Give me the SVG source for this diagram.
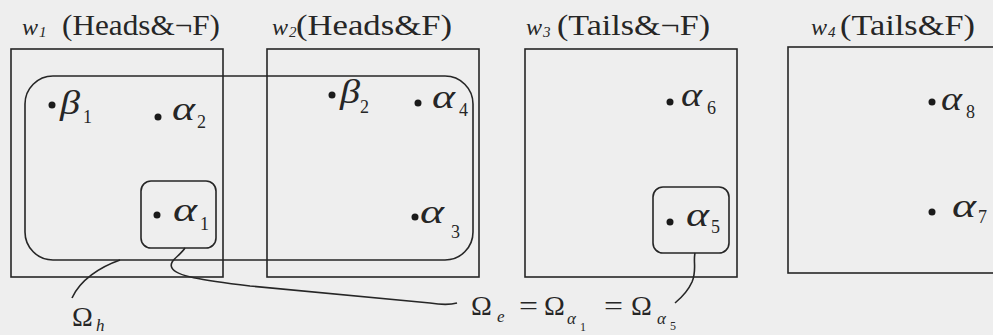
<svg xmlns="http://www.w3.org/2000/svg" width="993" height="335" viewBox="0 0 993 335" font-family="'Liberation Serif', 'DejaVu Serif', serif">
<style>
.bg{fill:#eeeeee}
.box{fill:none;stroke:#262626;stroke-width:1.6}
.set{fill:none;stroke:#262626;stroke-width:1.6}
.con{fill:none;stroke:#262626;stroke-width:1.6}
.dot{fill:#1a1a1a}
text{font-family:'Liberation Serif','DejaVu Serif',serif;fill:#262626}
.t{font-size:30px}
.w{font-size:24px;font-style:italic}
.ws{font-size:15px;font-style:italic}
.g{font-size:34px;font-style:italic}
.gs{font-size:18px}
.om{font-size:28px}
.os{font-size:17px;font-style:italic}
.oss{font-size:12px}
</style>
<rect class="bg" x="0" y="0" width="993" height="335"/>

<g id="world-w1">
<rect class="box" x="11" y="49" width="212" height="228"/>
<text class="w" x="22" y="35">w</text><text class="ws" x="39" y="37">1</text>
<text class="t" x="62" y="35" textLength="158" lengthAdjust="spacingAndGlyphs">(Heads&amp;¬F)</text>
</g>
<g id="world-w2">
<rect class="box" x="267" y="49" width="212" height="228"/>
<text class="w" x="272" y="35">w</text><text class="ws" x="289" y="37">2</text>
<text class="t" x="296" y="35" textLength="156" lengthAdjust="spacingAndGlyphs">(Heads&amp;F)</text>
</g>
<g id="world-w3">
<rect class="box" x="525" y="49" width="212" height="228"/>
<text class="w" x="526" y="35">w</text><text class="ws" x="543" y="37">3</text>
<text class="t" x="557" y="35" textLength="153" lengthAdjust="spacingAndGlyphs">(Tails&amp;¬F)</text>
</g>
<g id="world-w4">
<rect class="box" x="788" y="47" width="220" height="226"/>
<text class="w" x="811" y="35">w</text><text class="ws" x="828" y="37">4</text>
<text class="t" x="840" y="35" textLength="135" lengthAdjust="spacingAndGlyphs">(Tails&amp;F)</text>
</g>

<g id="set-omega-h">
<rect class="set" x="25" y="76" width="448" height="184" rx="28" ry="28"/>
</g>
<g id="set-alpha1">
<rect class="set" x="141" y="181" width="75" height="67" rx="10" ry="10"/>
</g>
<g id="set-alpha5">
<rect class="set" x="653" y="187" width="76" height="66" rx="10" ry="10"/>
</g>

<g id="pt-beta1"><circle class="dot" cx="52" cy="105" r="3.5"/><text class="g" x="60" y="114" textLength="20" lengthAdjust="spacingAndGlyphs">β</text><text class="gs" x="83" y="123">1</text></g>
<g id="pt-alpha2"><circle class="dot" cx="158" cy="117" r="3.5"/><text class="g" x="172" y="120" textLength="23" lengthAdjust="spacingAndGlyphs">α</text><text class="gs" x="197" y="128">2</text></g>
<g id="pt-beta2"><circle class="dot" cx="332" cy="95" r="3.5"/><text class="g" x="340" y="103" textLength="20" lengthAdjust="spacingAndGlyphs">β</text><text class="gs" x="360" y="113">2</text></g>
<g id="pt-alpha4"><circle class="dot" cx="418" cy="103" r="3.5"/><text class="g" x="432" y="108" textLength="23" lengthAdjust="spacingAndGlyphs">α</text><text class="gs" x="459" y="116">4</text></g>
<g id="pt-alpha1"><circle class="dot" cx="157" cy="215" r="3.5"/><text class="g" x="173" y="221" textLength="24" lengthAdjust="spacingAndGlyphs">α</text><text class="gs" x="200" y="230">1</text></g>
<g id="pt-alpha3"><circle class="dot" cx="415" cy="217" r="3.5"/><text class="g" x="420" y="223" textLength="24" lengthAdjust="spacingAndGlyphs">α</text><text class="gs" x="451" y="238">3</text></g>
<g id="pt-alpha6"><circle class="dot" cx="670" cy="102" r="3.5"/><text class="g" x="681" y="106" textLength="21" lengthAdjust="spacingAndGlyphs">α</text><text class="gs" x="707" y="114">6</text></g>
<g id="pt-alpha5"><circle class="dot" cx="670" cy="222" r="3.5"/><text class="g" x="686" y="226" textLength="23" lengthAdjust="spacingAndGlyphs">α</text><text class="gs" x="711" y="233">5</text></g>
<g id="pt-alpha8"><circle class="dot" cx="932" cy="102" r="3.5"/><text class="g" x="941" y="110" textLength="21" lengthAdjust="spacingAndGlyphs">α</text><text class="gs" x="966" y="118">8</text></g>
<g id="pt-alpha7"><circle class="dot" cx="932" cy="212" r="3.5"/><text class="g" x="952" y="217" textLength="24" lengthAdjust="spacingAndGlyphs">α</text><text class="gs" x="978" y="223">7</text></g>

<g id="connectors">
<path class="con" d="M120,260 C100,267 80,280 72,298"/>
<path class="con" d="M185,248 C180,256 168,261 172,268 C176,276 200,280 250,286 L430,303 C442,305 450,305 457,303"/>
<path class="con" d="M695,253 C693,262 697,270 692,282 C688,291 681,298 675,303"/>
</g>

<g id="label-omega-h">
<text class="om" x="72" y="326">Ω</text><text class="os" x="96" y="331">h</text>
</g>
<g id="label-omega-e">
<text class="om" x="471" y="315">Ω</text><text class="os" x="497" y="322">e</text>
<text class="om" x="519" y="315" textLength="19" lengthAdjust="spacingAndGlyphs">=</text>
<text class="om" x="544" y="315">Ω</text><text class="os" x="567" y="324">α</text><text class="oss" x="580" y="331">1</text>
<text class="om" x="604" y="315" textLength="19" lengthAdjust="spacingAndGlyphs">=</text>
<text class="om" x="631" y="315">Ω</text><text class="os" x="657" y="324">α</text><text class="oss" x="670" y="330">5</text>
</g>
</svg>
